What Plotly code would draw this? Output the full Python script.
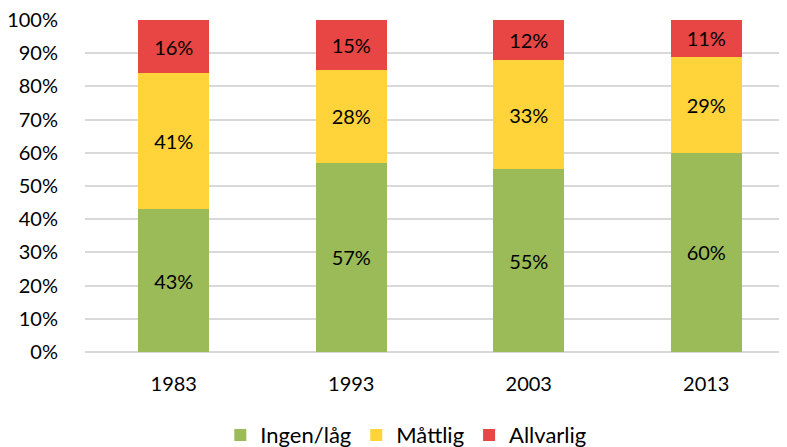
import plotly.graph_objects as go

years = ["1983", "1993", "2003", "2013"]
ingen = [43, 57, 55, 60]
mattlig = [41, 28, 33, 29]
allvarlig = [16, 15, 12, 11]
series_names = ["Ingen/låg", "Måttlig", "Allvarlig"]
colors = ["#9BBB59", "#FFD43B", "#E84545"]

FONT = "Lato, Open Sans, sans-serif"

fig = go.Figure()
for name, vals, col in zip(series_names, [ingen, mattlig, allvarlig], colors):
    fig.add_trace(go.Bar(
        x=years, y=vals, name=name, marker=dict(color=col, line=dict(width=0)),
        text=[f"{v}%" for v in vals], textposition="inside", insidetextanchor="middle",
        textfont=dict(color="black", size=20, family=FONT), width=0.4,
    ))

fig.update_layout(
    barmode="stack", width=779, height=439,
    margin=dict(l=77, r=0, t=12, b=95, autoexpand=False),
    paper_bgcolor="white", plot_bgcolor="white",
    font=dict(family=FONT, size=20, color="black"),
    uniformtext=dict(mode=False),
    legend=dict(orientation="h", x=0.457, xanchor="center", y=-0.187, yanchor="top",
                font=dict(size=22, family=FONT), traceorder="normal", itemwidth=30),
    showlegend=True,
)
fig.update_xaxes(type="category", range=[-0.5, 3.455], showgrid=False, showline=False,
                 ticks="outside", ticklen=14, tickcolor="white", tickfont=dict(size=20),
                 automargin=False)
fig.update_yaxes(range=[0, 100], dtick=10, ticksuffix="%", showgrid=True,
                 gridcolor="#D9D9D9", gridwidth=1.5, zeroline=True, zerolinecolor="#D9D9D9",
                 zerolinewidth=1.5, ticks="outside", ticklen=22, tickcolor="white",
                 tickfont=dict(size=20), automargin=False, ticklabeloverflow="allow")
fig.write_html("out.html")
